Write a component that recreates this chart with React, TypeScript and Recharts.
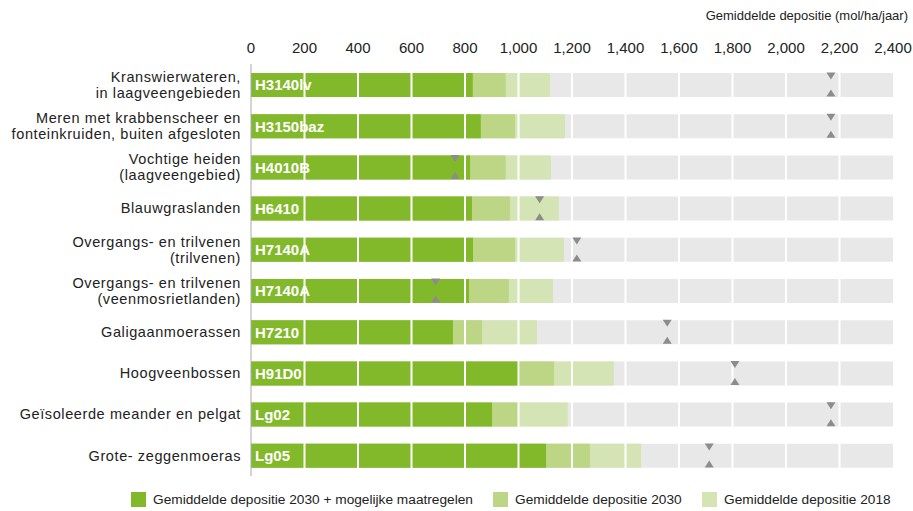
import React from "react";
import {
  BarChart,
  Bar,
  XAxis,
  YAxis,
  ReferenceLine,
  ReferenceDot,
  LabelList,
} from "recharts";

// habitat types (\n = line break in the axis label)
const categories = [
  "Kranswierwateren,\nin laagveengebieden",
  "Meren met krabbenscheer en\nfonteinkruiden, buiten afgesloten",
  "Vochtige heiden\n(laagveengebied)",
  "Blauwgraslanden",
  "Overgangs- en trilvenen\n(trilvenen)",
  "Overgangs- en trilvenen\n(veenmosrietlanden)",
  "Galigaanmoerassen",
  "Hoogveenbossen",
  "Geïsoleerde meander en pelgat",
  "Grote- zeggenmoeras",
];
const codes = ["H3140lv", "H3150baz", "H4010B", "H6410", "H7140A", "H7140A", "H7210", "H91D0", "Lg02", "Lg05"];

const dep2018 = [1118, 1174, 1121, 1151, 1170, 1129, 1069, 1356, 1184, 1458];
const dep2030 = [952, 987, 952, 968, 987, 964, 864, 1133, 999, 1267];
const dep2030Maatregelen = [829, 859, 819, 826, 830, 815, 755, 1003, 901, 1103];
// kritische depositiewaarde (grey markers)
const kdw = [2168, 2168, 763, 1079, 1218, 690, 1556, 1809, 2168, 1713];

const xTicks = [0, 200, 400, 600, 800, 1000, 1200, 1400, 1600, 1800, 2000, 2200, 2400];
const xMax = 2400;

const legendItems = [
  { label: "Gemiddelde depositie 2030 + mogelijke maatregelen", color: "#82b92a", left: 131 },
  { label: "Gemiddelde depositie 2030", color: "#bcd686", left: 493 },
  { label: "Gemiddelde depositie 2018", color: "#d4e4b4", left: 702 },
];

const data = categories.map((name, i) => ({
  name,
  code: codes[i],
  bg: xMax,
  d2018: dep2018[i],
  d2030: dep2030[i],
  d2030m: dep2030Maatregelen[i],
}));

const FONT = "'Liberation Sans', Arial, sans-serif";

const CategoryTick = ({ x, y, payload }: any) => {
  const lines = String(payload.value).split("\n");
  const lh = 16.2;
  const y0 = y - ((lines.length - 1) * lh) / 2;
  return (
    <text x={x} y={y} textAnchor="end" fill="#222" fontSize={14.5} letterSpacing={0.6} fontFamily={FONT}>
      {lines.map((l, i) => (
        <tspan key={i} x={x} y={y0 + i * lh + 5.2}>
          {l}
        </tspan>
      ))}
    </text>
  );
};

// hourglass marker: triangle pointing down at the top of the bar, up at the bottom
const KdwMarker = ({ cx, cy }: any) => {
  const top = cy - 12;
  const bot = cy + 12;
  return (
    <g fill="#8c8c8c">
      <polygon points={`${cx - 4.5},${top} ${cx + 4.5},${top} ${cx},${top + 7}`} />
      <polygon points={`${cx - 4.5},${bot} ${cx + 4.5},${bot} ${cx},${bot - 7}`} />
    </g>
  );
};

export default function App() {
  return (
    <div
      style={{
        position: "absolute",
        left: 0,
        top: 0,
        width: 913,
        height: 511,
        background: "#fff",
        fontFamily: FONT,
      }}
    >
      <div style={{ position: "absolute", right: 5, top: 8, fontSize: 13, color: "#222" }}>
        Gemiddelde depositie (mol/ha/jaar)
      </div>
      <BarChart
        width={913}
        height={511}
        data={data}
        layout="vertical"
        barSize={24}
        barGap={-24}
        margin={{ top: 34, right: 20, left: 0, bottom: 35 }}
      >
        <XAxis
          type="number"
          orientation="top"
          domain={[0, xMax]}
          ticks={xTicks}
          tickFormatter={(v) => v.toLocaleString("en-US")}
          axisLine={false}
          tickLine={false}
          tickMargin={5}
          height={30}
          tick={{ fill: "#222", fontSize: 15, fontFamily: FONT }}
          interval={0}
        />
        <YAxis
          type="category"
          dataKey="name"
          width={251}
          axisLine={{ stroke: "#aaa" }}
          tickLine={false}
          tickMargin={4}
          tick={<CategoryTick />}
          interval={0}
        />
        <Bar dataKey="bg" fill="#e8e8e8" isAnimationActive={false} />
        <Bar dataKey="d2018" fill="#d4e4b4" isAnimationActive={false} />
        <Bar dataKey="d2030" fill="#bcd686" isAnimationActive={false} />
        <Bar dataKey="d2030m" fill="#82b92a" isAnimationActive={false}>
          <LabelList
            dataKey="code"
            position="insideLeft"
            offset={4}
            fill="#fff"
            fontSize={15}
            fontWeight="bold"
            fontFamily={FONT}
          />
        </Bar>
        {xTicks.slice(1, -1).map((t) => (
          <ReferenceLine key={t} x={t} stroke="#fff" strokeWidth={2} />
        ))}
        {categories.map((c, i) => (
          <ReferenceDot key={i} x={kdw[i]} y={c} r={0} shape={<KdwMarker />} />
        ))}
      </BarChart>
      {legendItems.map((it) => (
        <div
          key={it.label}
          style={{
            position: "absolute",
            left: it.left,
            top: 492,
            display: "flex",
            alignItems: "center",
            fontSize: 13.7,
            color: "#222",
            whiteSpace: "nowrap",
          }}
        >
          <span style={{ display: "inline-block", width: 15, height: 15, background: it.color, marginRight: 7 }} />
          {it.label}
        </div>
      ))}
    </div>
  );
}
